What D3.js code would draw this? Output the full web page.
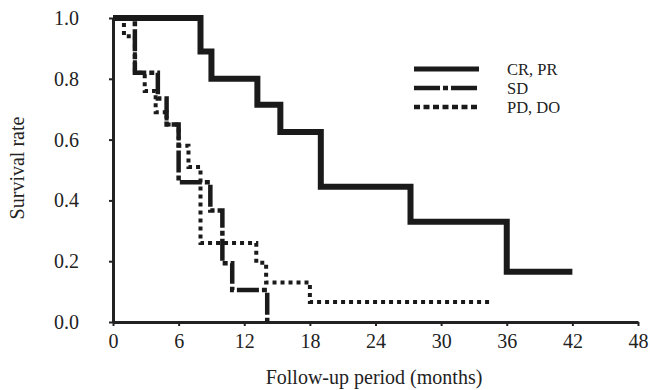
<!DOCTYPE html>
<html>
<head>
<meta charset="utf-8">
<script src="https://cdn.jsdelivr.net/npm/d3@7"></script>
<style>
  body { margin: 0; background: #fff; }
  svg text { font-family: "Liberation Serif", "DejaVu Serif", serif; fill: #222; }
</style>
</head>
<body>
<script>
// survival curves (months, survival rate)
var crTimes = [0, 8, 9, 13.2, 15.3, 19, 27.2, 36, 42];
var crSurv  = [1.0, 0.89, 0.80, 0.715, 0.625, 0.445, 0.33, 0.165, 0.165];

var sdTimes = [0, 2, 4.1, 4.9, 6, 8.9, 10, 10.9, 14.1];
var sdSurv  = [1.0, 0.82, 0.735, 0.65, 0.46, 0.367, 0.193, 0.105, 0];

var pdTimes = [0, 1, 2, 2.9, 3.9, 4.9, 6, 6.9, 8, 13.1, 14, 18, 34.6];
var pdSurv  = [1.0, 0.94, 0.82, 0.76, 0.69, 0.65, 0.58, 0.51, 0.26, 0.195, 0.13, 0.066, 0.066];

var seriesNames = ['CR, PR', 'SD', 'PD, DO'];
var xTicks = [0, 6, 12, 18, 24, 30, 36, 42, 48];
var yTicks = [0, 0.2, 0.4, 0.6, 0.8, 1.0];

var width = 650,
    height = 390;

var svg = d3.select('body')
    .append('svg')
    .attr('width', width)
    .attr('height', height);

var x = d3.scaleLinear()
    .domain([0, 48])
    .range([113, 638]);

var y = d3.scaleLinear()
    .domain([0, 1])
    .range([322, 18]);

// axes
svg.append('g')
    .attr('transform', 'translate(0,' + y(0) + ')')
    .call(d3.axisBottom(x)
        .tickValues(xTicks)
        .tickSize(4)
        .tickSizeOuter(0)
        .tickPadding(8));

svg.append('g')
    .attr('transform', 'translate(' + x(0) + ',0)')
    .call(d3.axisLeft(y)
        .tickValues(yTicks)
        .tickFormat(d3.format('.1f'))
        .tickSize(4)
        .tickSizeOuter(0)
        .tickPadding(30));

svg.selectAll('.domain')
    .style('stroke', '#222')
    .style('stroke-width', 3);
svg.selectAll('.tick line')
    .style('stroke', '#222')
    .style('stroke-width', 2);
svg.selectAll('.tick text')
    .style('font-size', '20px')
    .style('font-family', '"Liberation Serif", serif');

svg.append('text')
    .attr('x', 374)
    .attr('y', 384)
    .attr('text-anchor', 'middle')
    .style('font-size', '20px')
    .text('Follow-up period (months)');

svg.append('text')
    .attr('transform', 'translate(24,168) rotate(-90)')
    .attr('text-anchor', 'middle')
    .style('font-size', '20px')
    .text('Survival rate');

// curves
var line = d3.line()
    .x(function(d) { return x(d[0]); })
    .y(function(d) { return y(d[1]); })
    .curve(d3.curveStepAfter);

var styles = [
    {w: 6, dash: null},
    {w: 4.5, dash: '22,3,5,3'},
    {w: 4, dash: '4,4'}
];

var series = [
    d3.zip(crTimes, crSurv),
    d3.zip(sdTimes, sdSurv),
    d3.zip(pdTimes, pdSurv)
];

// draw dotted first so the solid ones sit on top
[2, 1, 0].forEach(function(i) {
    svg.append('path')
        .datum(series[i])
        .attr('d', line)
        .style('fill', 'none')
        .style('stroke', '#1a1a1a')
        .style('stroke-width', styles[i].w)
        .style('stroke-dasharray', styles[i].dash);
});

// legend
var legend = svg.append('g');
var legY = [69, 88, 107];

seriesNames.forEach(function(name, i) {
    legend.append('line')
        .attr('x1', 414)
        .attr('x2', 479)
        .attr('y1', legY[i])
        .attr('y2', legY[i])
        .style('stroke', '#1a1a1a')
        .style('stroke-width', i === 0 ? 5 : 4.5)
        .style('stroke-dasharray', i === 2 ? '6,3.5' : (i === 1 ? '26,3,5,3' : null));
    legend.append('text')
        .attr('x', 507)
        .attr('y', legY[i])
        .attr('dy', '0.35em')
        .style('font-size', '16.5px')
        .text(name);
});
</script>
</body>
</html>
